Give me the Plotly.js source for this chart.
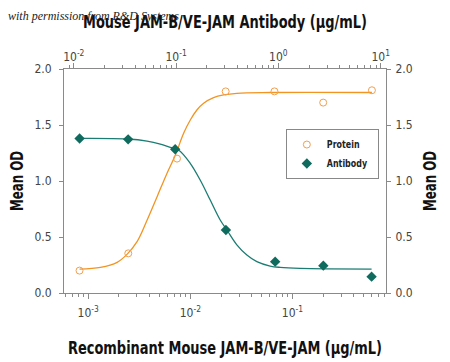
<!DOCTYPE html>
<html>
<head>
<meta charset="utf-8">
<script src="https://cdn.plot.ly/plotly-3.0.1.min.js"></script>
<style>
html,body{margin:0;padding:0;background:#fff;}
#chart{width:450px;height:362px;}
#chart svg text{font-stretch:condensed;}
</style>
</head>
<body>
<div id="chart"></div>
<script>
// ---- data ----
const proteinConc = [0.000823, 0.00247, 0.00741, 0.0222, 0.0667, 0.2, 0.6];      // µg/mL, bottom axis
const proteinOD   = [0.20, 0.354, 1.20, 1.80, 1.80, 1.70, 1.81];
const antibodyConc = [0.0114, 0.034, 0.098, 0.307, 0.93, 2.75, 8.15];            // µg/mL, top axis
const antibodyOD   = [1.38, 1.372, 1.283, 0.5625, 0.28, 0.244, 0.146];

// fitted curves
const proteinFitConc = [0.000823, 0.00132, 0.00192, 0.0024, 0.00301, 0.00378, 0.00473, 0.00592, 0.00713, 0.0086, 0.01, 0.0116, 0.0135, 0.0169, 0.0212, 0.0286, 0.0605, 0.6];
const proteinFitOD   = [0.214, 0.229, 0.274, 0.345, 0.458, 0.652, 0.86, 1.07, 1.23, 1.426, 1.545, 1.634, 1.694, 1.744, 1.768, 1.783, 1.79, 1.79];
const antibodyFitConc = [0.0114, 0.0332, 0.052, 0.0701, 0.0878, 0.1057, 0.1375, 0.172, 0.2157, 0.27, 0.3138, 0.3927, 0.492, 0.6157, 0.83, 1.039, 1.628, 8.15];
const antibodyFitOD   = [1.38, 1.375, 1.357, 1.33, 1.30, 1.277, 1.158, 1.009, 0.83, 0.652, 0.5625, 0.43, 0.339, 0.28, 0.241, 0.229, 0.22, 0.214];

// tick labels
const bottomTickVals = [0.001, 0.01, 0.1];
const bottomTickText = ['10<sup>-3</sup>', '10<sup>-2</sup>', '10<sup>-1</sup>'];
const topTickVals = [0.01, 0.1, 1, 10];
const topTickText = ['10<sup>-2</sup>', '10<sup>-1</sup>', '10<sup>0</sup>', '10<sup>1</sup>'];
const yTickVals = [0, 0.5, 1, 1.5, 2];
const yTickText = ['0.0', '0.5', '1.0', '1.5', '2.0'];

const seriesNames = ['Protein', 'Antibody'];
const bottomTitle = 'Recombinant Mouse JAM-B/VE-JAM (µg/mL)';
const topTitle = 'Mouse JAM-B/VE-JAM Antibody (µg/mL)';
const yTitle = 'Mean OD';
const watermark = 'with permission from R&amp;D Systems';

// ---- style ----
const FONT = '"DejaVu Sans Condensed", "Liberation Sans Narrow", "DejaVu Sans", sans-serif';
const AX = '#8a8a8a';
const ORANGE = '#f0a050';
const ORANGE_LINE = '#f29422';
const TEAL = '#0f6b5e';
const TEAL_LINE = '#1b7c73';

function minorVals(lo, hi) {
  const v = [];
  for (let e = lo; e <= hi; e++) for (let k = 2; k <= 9; k++) v.push(k * Math.pow(10, e));
  return v;
}

const tickFont = {family: FONT, size: 12, color: '#444'};
const titleFont = {family: FONT, size: 18, color: '#111', weight: 'bold'};

const traces = [
  {x: proteinFitConc, y: proteinFitOD, mode: 'lines', line: {color: ORANGE_LINE, width: 1.3, shape: 'spline', smoothing: 1}, showlegend: false, hoverinfo: 'skip', xaxis: 'x', yaxis: 'y'},
  {x: proteinConc, y: proteinOD, mode: 'markers', name: seriesNames[0], marker: {symbol: 'circle-open', size: 7, color: ORANGE, line: {width: 1}}, xaxis: 'x', yaxis: 'y'},
  {x: antibodyFitConc, y: antibodyFitOD, mode: 'lines', line: {color: TEAL_LINE, width: 1.3, shape: 'spline', smoothing: 1}, showlegend: false, hoverinfo: 'skip', xaxis: 'x2', yaxis: 'y2'},
  {x: antibodyConc, y: antibodyOD, mode: 'markers', name: seriesNames[1], marker: {symbol: 'diamond', size: 8, color: TEAL}, xaxis: 'x2', yaxis: 'y2'}
];

const baseX = {
  type: 'log', tickmode: 'array',
  showline: true, linecolor: AX, linewidth: 1, mirror: false,
  ticks: 'outside', ticklen: 5, tickcolor: AX, tickwidth: 1,
  showgrid: false, zeroline: false, tickfont: tickFont,
};
const baseY = {
  range: [0, 2], tickmode: 'array', tickvals: yTickVals, ticktext: yTickText,
  showline: true, linecolor: AX, linewidth: 1,
  ticks: 'outside', ticklen: 4, tickcolor: AX, tickwidth: 1,
  showgrid: false, zeroline: false, tickfont: tickFont,
};

const layout = {
  width: 450, height: 362,
  margin: {l: 64, r: 64, t: 69, b: 69},
  paper_bgcolor: '#fff', plot_bgcolor: '#fff',
  font: {family: FONT},
  showlegend: true,
  legend: {x: 0.689, y: 0.732, xanchor: 'left', yanchor: 'top', bgcolor: '#fff', bordercolor: '#888', borderwidth: 1,
           font: {family: FONT, size: 10, color: '#222', weight: 'bold'}, tracegroupgap: 0},
  xaxis: Object.assign({}, baseX, {
    range: [-3.2366, -0.0841], side: 'bottom', anchor: 'y',
    tickvals: bottomTickVals, ticktext: bottomTickText, ticklabelstandoff: 4,
    minor: {tickvals: minorVals(-4, -1), ticklen: 3, tickcolor: AX, ticks: 'outside'},
    title: {text: bottomTitle, font: titleFont, standoff: 21}
  }),
  xaxis2: Object.assign({}, baseX, {
    range: [-2.0956, 1.052], side: 'top', overlaying: 'x', anchor: 'y',
    tickvals: topTickVals, ticktext: topTickText, ticklabelstandoff: -3,
    minor: {tickvals: minorVals(-3, 1), ticklen: 3, tickcolor: AX, ticks: 'outside'},
    title: {text: topTitle, font: titleFont, standoff: 14}
  }),
  yaxis: Object.assign({}, baseY, {side: 'left', anchor: 'x', ticklabelstandoff: 5,
    title: {text: yTitle, font: Object.assign({}, titleFont, {size: 17}), standoff: 6}}),
  yaxis2: Object.assign({}, baseY, {side: 'right', overlaying: 'y', anchor: 'x', ticklabelstandoff: 2,
    title: {text: yTitle, font: Object.assign({}, titleFont, {size: 17}), standoff: 12}}),
  annotations: [{
    text: watermark, xref: 'paper', yref: 'paper', x: -0.18, y: 1.237,
    xanchor: 'left', yanchor: 'middle', showarrow: false,
    font: {family: '"Liberation Serif", "DejaVu Serif", serif', size: 12, style: 'italic', color: '#222'}
  }]
};

// condense glyphs to mimic the narrow typeface of the original
function squeezeTo(selector, width) {
  document.querySelectorAll(selector).forEach(t => {
    t.setAttribute('textLength', width);
    t.setAttribute('lengthAdjust', 'spacingAndGlyphs');
  });
}
function squeezeBy(selector, factor) {
  document.querySelectorAll(selector).forEach(t => {
    const w = t.getComputedTextLength();
    t.setAttribute('textLength', (w * factor).toFixed(1));
    t.setAttribute('lengthAdjust', 'spacingAndGlyphs');
  });
}

Plotly.newPlot('chart', traces, layout, {displayModeBar: false, staticPlot: true}).then(() => {
  squeezeTo('#chart text.xtitle', 314);
  squeezeTo('#chart text.x2title', 284);
  squeezeTo('#chart text.ytitle', 60);
  squeezeTo('#chart text.y2title', 60);
  squeezeBy('#chart text.legendtext', 0.88);
});
</script>
</body>
</html>
